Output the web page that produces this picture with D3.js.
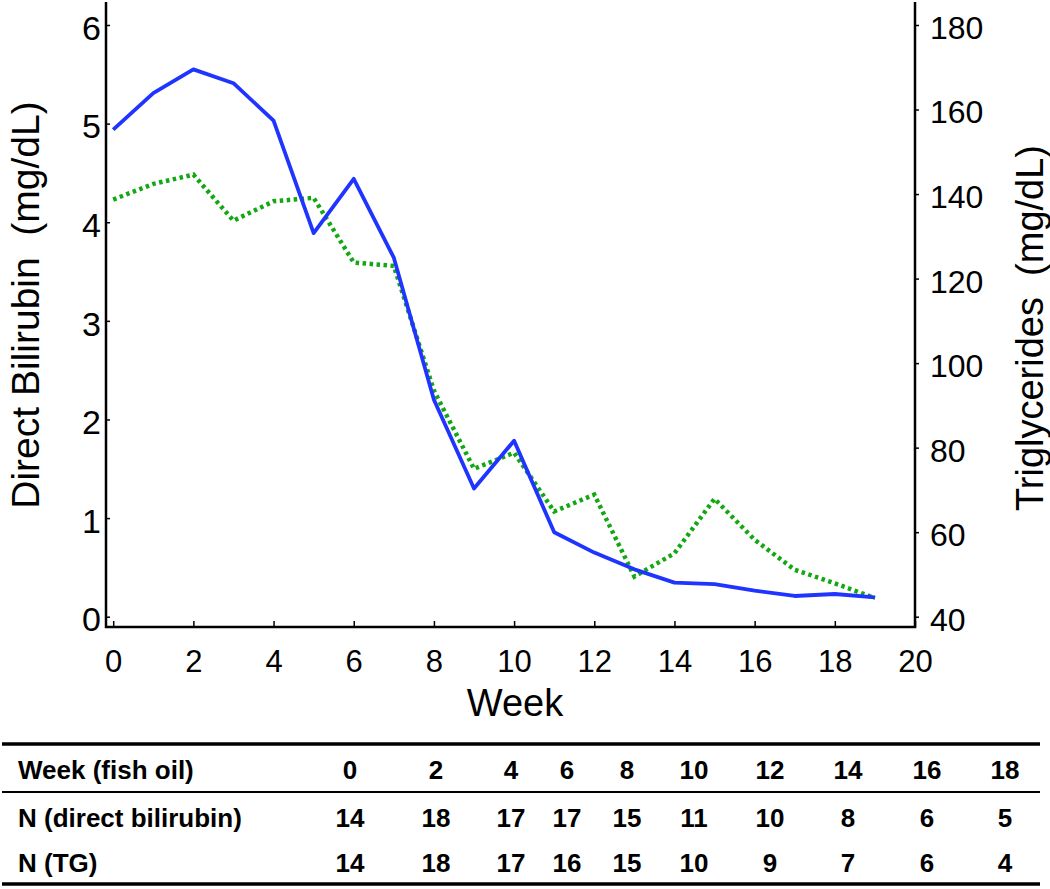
<!DOCTYPE html>
<html>
<head>
<meta charset="utf-8">
<script src="https://cdn.jsdelivr.net/npm/d3@7"></script>
<style>
body { margin: 0; background: #fff; }
svg { display: block; font-family: "Liberation Sans", Arial, sans-serif; }
</style>
</head>
<body>
<script>
// weekly means
var weeks = d3.range(0, 20);
var bilirubin = [4.94, 5.31, 5.55, 5.41, 5.03, 3.89, 4.44, 3.64, 2.20, 1.30,
                 1.785, 0.856, 0.65, 0.48, 0.345, 0.33, 0.264, 0.21, 0.23, 0.197];
var triglycerides = [138.7, 142.4, 144.6, 133.7, 138.3, 139.1, 123.8, 123.0, 93.5, 75.0,
                     78.8, 64.9, 68.9, 49.5, 55.0, 67.9, 58.2, 51.1, 47.9, 44.4];

var xTicks = d3.range(0, 21, 2);
var leftTicks = [0, 1, 2, 3, 4, 5, 6];
var rightTicks = [40, 60, 80, 100, 120, 140, 160, 180];

// table under the chart
var rowLabels = ["Week (fish oil)", "N (direct bilirubin)", "N (TG)"];
var weekFish = [0, 2, 4, 6, 8, 10, 12, 14, 16, 18];
var nBili = [14, 18, 17, 17, 15, 11, 10, 8, 6, 5];
var nTG = [14, 18, 17, 16, 15, 10, 9, 7, 6, 4];

var W = 1050, H = 889;
var svg = d3.select("body").append("svg")
    .attr("width", W)
    .attr("height", H);

var x = d3.scaleLinear().domain([0, 20]).range([113.2, 915]);
var yL = d3.scaleLinear().domain([0, 6]).range([616.7, 25]);
var yR = d3.scaleLinear().domain([40, 180]).range([616.7, 25]);

var axL = 106, axB = 627, axR = 915, axTop = 2;

// left axis
var gl = svg.append("g")
    .attr("transform", "translate(" + axL + ",0)")
    .call(d3.axisLeft(yL).tickValues(leftTicks).tickFormat(d3.format("d"))
          .tickSizeInner(-4).tickSizeOuter(0).tickPadding(5));
gl.select(".domain").remove();
gl.selectAll("text").attr("font-size", 34).attr("fill", "#000").attr("font-family", "Liberation Sans").attr("dy", "0.42em");
gl.selectAll("line").attr("stroke-width", 1.5);

// bottom axis
var gb = svg.append("g")
    .attr("transform", "translate(0," + axB + ")")
    .call(d3.axisBottom(x).tickValues(xTicks).tickSizeInner(-6).tickSizeOuter(0).tickPadding(23));
gb.select(".domain").remove();
gb.selectAll("text").attr("font-size", 31).attr("fill", "#000").attr("font-family", "Liberation Sans");
gb.selectAll("line").attr("stroke-width", 1.5);

// right axis
var gr = svg.append("g")
    .attr("transform", "translate(" + axR + ",0)")
    .call(d3.axisRight(yR).tickValues(rightTicks).tickSizeInner(4).tickSizeOuter(0).tickPadding(11));
gr.select(".domain").remove();
gr.selectAll("text").attr("font-size", 32).attr("fill", "#000").attr("font-family", "Liberation Sans").attr("dy", "0.42em");
gr.selectAll("line").attr("stroke-width", 1.5);

// axis lines
svg.append("path")
    .attr("d", "M" + axL + "," + axTop + "V" + axB + "H" + axR + "V" + axTop)
    .attr("fill", "none")
    .attr("stroke", "#000")
    .attr("stroke-width", 2.5);

// lines
var lineB = d3.line().x(function(d, i) { return x(weeks[i]); }).y(function(d) { return yL(d); });
var lineT = d3.line().x(function(d, i) { return x(weeks[i]); }).y(function(d) { return yR(d); });

svg.append("path")
    .datum(triglycerides)
    .attr("d", lineT)
    .attr("fill", "none")
    .attr("stroke", "#13a813")
    .attr("stroke-width", 4.5)
    .attr("stroke-dasharray", "3.5,3.5");

svg.append("path")
    .datum(bilirubin)
    .attr("d", lineB)
    .attr("fill", "none")
    .attr("stroke", "#1f35ff")
    .attr("stroke-width", 3.8)
    .attr("stroke-linejoin", "round");

// axis titles
svg.append("text")
    .attr("x", 515).attr("y", 716)
    .attr("text-anchor", "middle")
    .attr("font-size", 38)
    .text("Week");

svg.append("text")
    .attr("transform", "translate(39,305) rotate(-90)")
    .attr("text-anchor", "middle")
    .attr("font-size", 39)
    .style("white-space", "pre")
    .text("Direct Bilirubin  (mg/dL)");

svg.append("text")
    .attr("transform", "translate(1043,328) rotate(-90)")
    .attr("text-anchor", "middle")
    .attr("font-size", 38)
    .style("white-space", "pre")
    .text("Triglycerides  (mg/dL)");

// table
var colX = [350, 436, 511, 567, 627, 694, 770, 848, 927, 1005];
var rowY = [779, 827, 872];
var rows = [weekFish, nBili, nTG];

svg.append("line").attr("x1", 2).attr("x2", 1040).attr("y1", 744).attr("y2", 744)
    .attr("stroke", "#000").attr("stroke-width", 3.5);
svg.append("line").attr("x1", 2).attr("x2", 1040).attr("y1", 792).attr("y2", 792)
    .attr("stroke", "#000").attr("stroke-width", 1.8);
svg.append("line").attr("x1", 2).attr("x2", 1040).attr("y1", 884).attr("y2", 884)
    .attr("stroke", "#000").attr("stroke-width", 3.5);

rows.forEach(function(r, ri) {
    svg.append("text")
        .attr("x", 18).attr("y", rowY[ri])
        .attr("font-size", 26)
        .attr("font-weight", "bold")
        .text(rowLabels[ri]);
    svg.selectAll(null)
        .data(r)
        .enter().append("text")
        .attr("x", function(d, i) { return colX[i]; })
        .attr("y", rowY[ri])
        .attr("text-anchor", "middle")
        .attr("font-size", 26)
        .attr("font-weight", "bold")
        .text(function(d) { return d; });
});
</script>
</body>
</html>
